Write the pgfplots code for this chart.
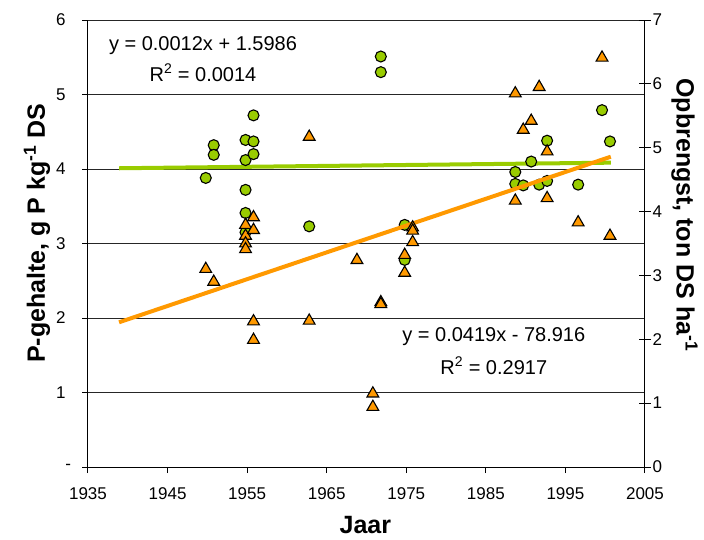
\documentclass[border=0pt]{standalone}
\usepackage{fontspec}
\setmainfont{Liberation Sans}
\usepackage{pgfplots}
\usepackage{pgfplotstable}
\pgfplotsset{compat=1.18}
\definecolor{lgreen}{HTML}{99CC00}
\definecolor{lorange}{HTML}{FF9900}

\pgfplotstableread{
year P
1949.8 3.88
1950.8 4.32
1950.8 4.19
1954.8 4.39
1954.8 4.12
1954.8 3.72
1954.8 3.41
1954.8 3.15
1955.8 4.72
1955.8 4.37
1955.8 4.20
1962.8 3.23
1971.8 5.51
1971.8 5.30
1974.8 3.25
1974.8 2.78
1988.7 3.96
1988.7 3.80
1989.7 3.78
1990.7 4.10
1991.7 3.79
1992.7 3.84
1992.7 4.38
1996.6 3.79
1999.6 4.79
2000.6 4.37
}\greentab

\pgfplotstableread{
year Y
1949.8 3.10
1950.8 2.90
1954.8 3.79
1954.8 3.62
1954.8 3.50
1954.8 3.41
1955.8 3.91
1955.8 3.71
1955.8 2.28
1955.8 1.99
1962.8 5.17
1962.8 2.29
1968.8 3.24
1970.8 1.15
1970.8 0.94
1971.8 2.58
1971.8 2.55
1974.8 3.32
1974.8 3.04
1975.8 3.75
1975.8 3.70
1975.8 3.52
1988.7 5.85
1988.7 4.17
1989.7 5.28
1990.7 5.42
1991.7 5.95
1992.7 4.94
1992.7 4.21
1996.6 3.83
1999.6 6.41
2000.6 3.62
}\orangetab

\begin{document}
\begin{tikzpicture}[x=1pt,y=1pt]
\useasboundingbox (-88,-72) rectangle (616,467);
\begin{axis}[
  at={(0,0)}, anchor=south west,
  width=557pt, height=447pt, scale only axis,
  xmin=1935, xmax=2005, ymin=0, ymax=6,
  xtick={1935,1945,...,2005},
  ytick={0,1,...,6}, yticklabels={{-\kern-5.5pt},1,2,3,4,5,6},
  axis y line*=left, axis x line*=bottom,
  axis line style={line width=1pt,-},
  tick style={line width=1pt,black},
  tick align=outside, major tick length=6pt,
  ymajorgrids, major grid style={line width=1pt,black!85},
  /pgf/number format/assume math mode=true,
  /pgf/number format/1000 sep={},
  tick label style={font=\fontsize{17}{17}\selectfont},
  xticklabel style={yshift=-11pt},
  yticklabel style={anchor=east, xshift=-13pt},
  clip=false,
  xlabel={Jaar},
  xlabel style={font=\bfseries\fontsize{25}{25}\selectfont, at={(axis description cs:0.498,-0.13)}, anchor=center},
  ylabel={P-gehalte, g P kg\textsuperscript{-1} DS},
  ylabel style={font=\bfseries\fontsize{25}{25}\selectfont, at={(axis description cs:-0.0916,0.523)}, anchor=center, rotate=0},
]
\addplot[lgreen, line width=4pt, no marks] coordinates {(1938.9,4.01) (2000.7,4.085)};
\addplot[only marks, mark=*, mark size=5.5pt, mark options={fill=lgreen, draw=black, line width=1.1pt}] table[x=year,y=P] {\greentab};
\node[font=\fontsize{20}{20}\selectfont] at (axis cs:1949.45,5.66) {y = 0.0012x + 1.5986};
\node[font=\fontsize{20}{20}\selectfont] at (axis cs:1949.45,5.29) {R\textsuperscript{2} = 0.0014};
\node[font=\fontsize{20}{20}\selectfont] at (axis cs:1986.0,1.745) {y = 0.0419x - 78.916};
\node[font=\fontsize{20}{20}\selectfont] at (axis cs:1986.0,1.36) {R\textsuperscript{2} = 0.2917};
\end{axis}
\begin{axis}[
  at={(0,0)}, anchor=south west,
  width=557pt, height=447pt, scale only axis,
  xmin=1935, xmax=2005, ymin=0, ymax=7,
  ytick={0,1,...,7},
  axis y line*=right, axis x line=none,
  axis line style={line width=1pt,-},
  tick style={line width=1pt,black},
  tick align=center, major tick length=12pt,
  /pgf/number format/assume math mode=true,
  tick label style={font=\fontsize{17}{17}\selectfont},
  yticklabel style={xshift=-2pt},
  clip=false,
  ylabel={Opbrengst, ton DS ha\textsuperscript{-1}},
  ylabel style={font=\bfseries\fontsize{25}{25}\selectfont, at={(axis description cs:1.071,0.564)}, anchor=center, rotate=180},
]
\addplot[lorange, line width=4pt, no marks] coordinates {(1938.9,2.266) (2000.7,4.859)};
\addplot[only marks, mark=triangle*, mark size=6.8pt, mark options={fill=lorange, draw=black, line width=1.1pt}] table[x=year,y=Y] {\orangetab};
\end{axis}
\end{tikzpicture}
\end{document}
